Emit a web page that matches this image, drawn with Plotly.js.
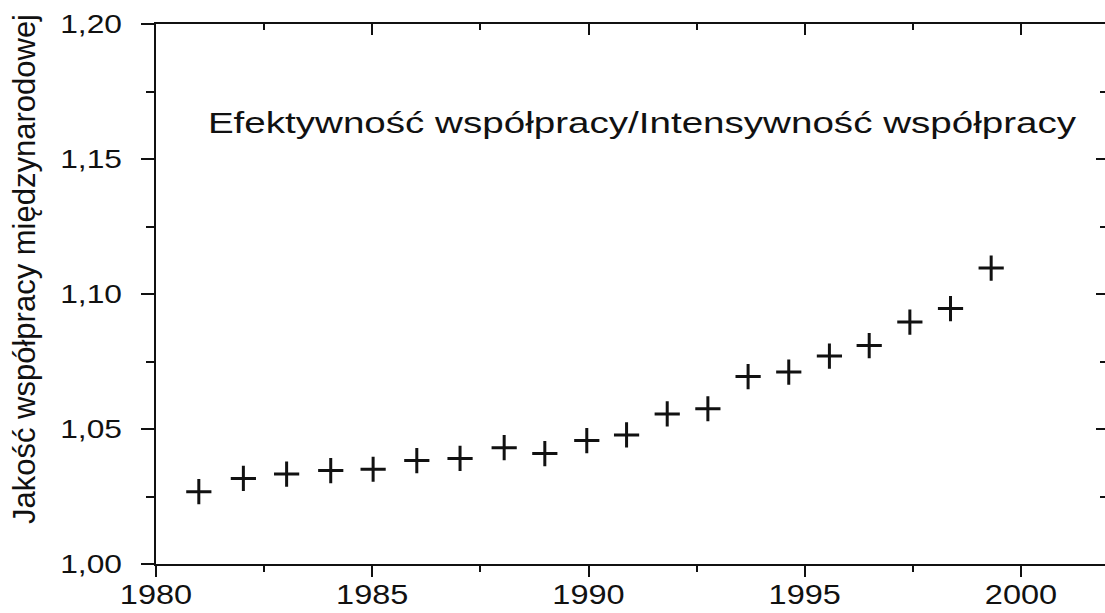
<!DOCTYPE html>
<html>
<head>
<meta charset="utf-8">
<script src="https://cdn.plot.ly/plotly-3.0.1.min.js"></script>
<style>
  html, body { margin: 0; padding: 0; background: #fff; overflow: hidden; }
  #chart { width: 1110px; height: 613px; }
</style>
</head>
<body>
<div id="chart"></div>
<script>
// ---- data ----
const yearPos = [1980.99, 1982.02, 1983.02, 1984.04, 1985.02, 1986.03, 1987.03, 1988.05, 1988.99, 1989.96,
                 1990.88, 1991.82, 1992.76, 1993.69, 1994.63, 1995.57, 1996.49, 1997.43, 1998.37, 1999.31];
const quality = [1.0268, 1.0317, 1.0333, 1.0346, 1.0351, 1.0383, 1.0391, 1.0431, 1.0409, 1.0457,
                 1.0478, 1.0556, 1.0575, 1.0694, 1.0711, 1.0770, 1.0809, 1.0896, 1.0946, 1.1096];
const xRange = [1980, 2001.965];
const yRange = [1.00, 1.20];
const chartTitle = "Efektywność współpracy/Intensywność współpracy";
const yTitle = "Jakość współpracy międzynarodowej";

const FONT = "'Liberation Sans', Arial, Helvetica, sans-serif";
const INK = "#111111";

const traces = [
  {
    type: "scatter", mode: "markers",
    x: yearPos, y: quality,
    marker: { symbol: "cross-thin", size: 18, line: { width: 3, color: INK } },
    hoverinfo: "x+y", showlegend: false
  },
  { type: "scatter", mode: "markers", x: [], y: [], xaxis: "x2", yaxis: "y2", showlegend: false, hoverinfo: "skip" }
];

const axisCommon = { showgrid: false, zeroline: false, showline: true, linewidth: 2, linecolor: INK,
                     tickcolor: INK, tickwidth: 2 };

const layout = {
  width: 1110, height: 613,
  margin: { l: 156, r: 4, t: 24, b: 49, pad: 0 },
  paper_bgcolor: "#ffffff", plot_bgcolor: "#ffffff",
  separators: ", ",
  font: { family: FONT, color: INK },
  showlegend: false,
  title: {
    text: chartTitle,
    font: { family: FONT, size: 29, color: INK },
    xref: "container", yref: "container",
    x: 642 / 1110, xanchor: "center",
    y: 1 - 123 / 613, yanchor: "middle"
  },
  xaxis: Object.assign({}, axisCommon, {
    range: xRange, tick0: 1980, dtick: 5, tickformat: "d",
    ticks: "outside", ticklen: 11,
    minor: { dtick: 2.5, tick0: 1980, ticks: "outside", ticklen: 6, tickwidth: 2, tickcolor: INK, showgrid: false },
    tickfont: { family: FONT, size: 28, color: INK },
    ticklabelstandoff: -7
  }),
  yaxis: Object.assign({}, axisCommon, {
    range: yRange, tick0: 1, dtick: 0.05, tickformat: ".2f",
    ticks: "outside", ticklen: 13,
    minor: { dtick: 0.025, tick0: 1, ticks: "outside", ticklen: 8, tickwidth: 2, tickcolor: INK, showgrid: false },
    tickfont: { family: FONT, size: 25, color: INK },
    ticklabelstandoff: 14,
    title: { text: yTitle, font: { family: FONT, size: 31, color: INK }, standoff: 28 }
  }),
  xaxis2: Object.assign({}, axisCommon, {
    overlaying: "x", anchor: "y2", side: "top", range: xRange,
    tick0: 1980, dtick: 5, ticks: "inside", ticklen: 11, showticklabels: false,
    minor: { dtick: 2.5, tick0: 1980, ticks: "inside", ticklen: 6, tickwidth: 2, tickcolor: INK, showgrid: false }
  }),
  yaxis2: Object.assign({}, axisCommon, {
    overlaying: "y", anchor: "x2", side: "right", range: yRange,
    tick0: 1, dtick: 0.05, ticks: "inside", ticklen: 10, showticklabels: false,
    minor: { dtick: 0.025, tick0: 1, ticks: "inside", ticklen: 6, tickwidth: 2, tickcolor: INK, showgrid: false }
  })
};

function stretch(root, selector, factor) {
  root.querySelectorAll(selector).forEach(function (t) {
    const len = t.getComputedTextLength();
    if (len > 0) {
      t.setAttribute("textLength", (len * factor).toFixed(1));
      t.setAttribute("lengthAdjust", "spacingAndGlyphs");
    }
  });
}

Plotly.newPlot("chart", traces, layout, { staticPlot: true, displayModeBar: false }).then(function (gd) {
  // the scanned original uses wider lettering than Arial
  stretch(gd, ".gtitle", 1.33);
  stretch(gd, ".xtick text", 1.16);
  stretch(gd, ".ytick text", 1.27);
  // the axis title sits a little above the middle of the frame in the original
  const yt = gd.querySelector(".ytitle");
  if (yt) yt.setAttribute("dx", "25");
});
</script>
</body>
</html>
